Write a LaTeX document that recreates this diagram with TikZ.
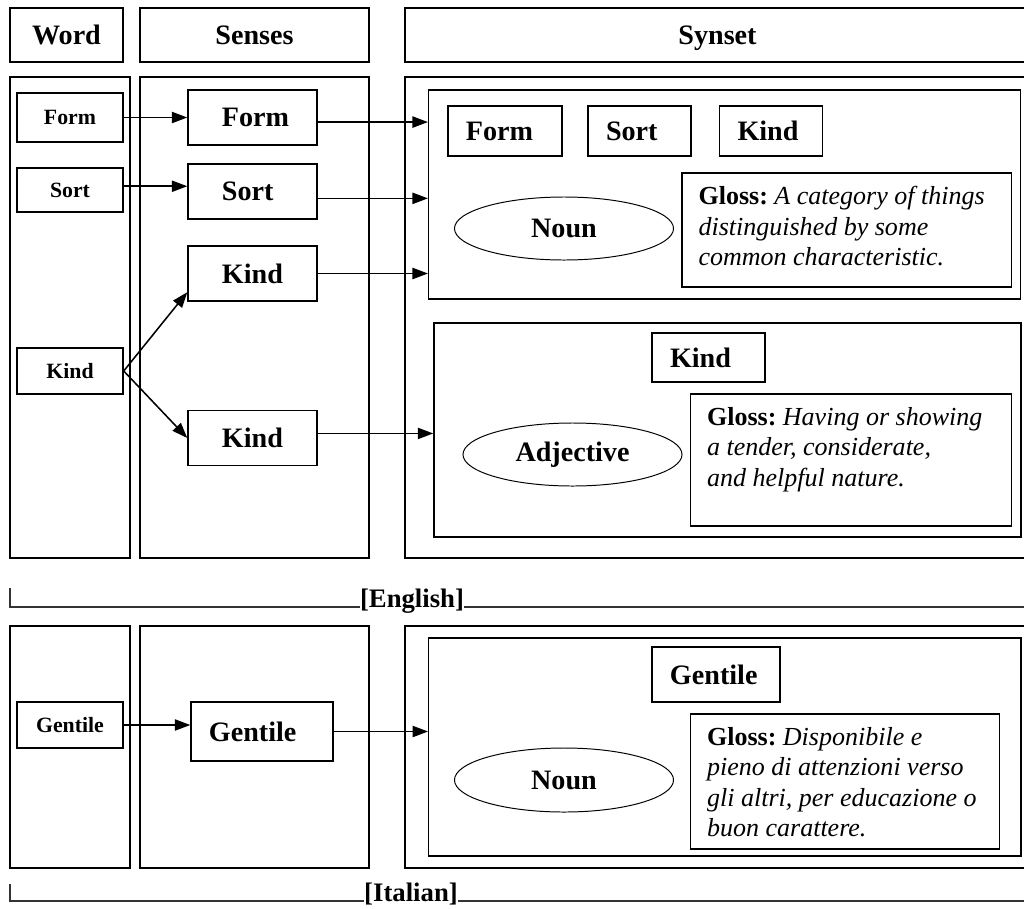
\documentclass[tikz,border=0pt]{standalone}
\usepackage{fontspec}
\setmainfont{Liberation Serif}
\usetikzlibrary{positioning,shapes.geometric,arrows.meta}

\begin{document}
\begin{tikzpicture}[x=0.025cm,y=-0.025cm,
	box/.style={draw,line width=1pt,inner sep=0},
	head/.style={box,font=\bfseries\fontsize{20}{24}\selectfont,text height=16pt,text depth=2pt,minimum height=1.35cm},
	wbox/.style={box,font=\bfseries\fontsize{15.5}{18}\selectfont,minimum width=2.65cm},
	sbox/.style={box,font=\bfseries\fontsize{20}{24}\selectfont,inner xsep=0.85cm,text width=1.525cm,align=left,minimum height=1.375cm},
	ybox/.style={box,font=\bfseries\fontsize{20}{24}\selectfont,inner xsep=0.45cm,align=left,minimum height=1.25cm},
	posell/.style={ellipse,draw,line width=0.7pt,font=\bfseries\fontsize{20}{24}\selectfont,minimum width=5.475cm,minimum height=1.575cm},
	glosstext/.style={inner sep=0,align=left,font=\itshape\fontsize{18.5}{21.5}\selectfont},
	lang/.style={inner sep=0,font=\bfseries\fontsize{19}{23}\selectfont},
	rule/.style={line width=0.9pt,black!80},
	arr/.style={line width=1.1pt,-{Triangle[length=11pt,width=8pt]}}]
\useasboundingbox (0,0) rectangle (1024,908);

% headers
\node[head,minimum width=2.825cm] (hword) at (66.5,35) {Word};
\node[head,minimum width=5.725cm] (hsenses) at (254.5,35) {Senses};
\node[head,minimum width=15.625cm] (hsynset) at (717.5,35) {Synset};

% English
\node[box,minimum width=3cm,minimum height=12.025cm] (cword) at (70,317.5) {};
\node[box,minimum width=5.725cm,minimum height=12.025cm] (csenses) at (254.5,317.5) {};
\node[box,minimum width=15.625cm,minimum height=12.025cm] (csynset) at (717.5,317.5) {};

\node[wbox,minimum height=1.225cm] (wform) at (70,117.5) {Form};
\node[wbox,minimum height=1.1cm] (wsort) at (70,190) {Sort};
\node[wbox,minimum height=1.15cm] (wkind) at (70,371) {Kind};

\node[sbox] (sform) at (252.5,117.5) {Form};
\node[sbox] (ssort) at (252.5,191.5) {Sort};
\node[sbox] (skindn) at (252.5,273.5) {Kind};
\node[sbox] (skinda) at (252.5,438) {Kind};

\node[box,minimum width=14.8cm,minimum height=5.225cm] (syn1) at (724.7,194.5) {};
\node[ybox,text width=1.95cm] (yform) at (505,131) {Form};
\node[ybox,text width=1.675cm] (ysort) at (639.5,131) {Sort};
\node[ybox,text width=1.675cm] (ykind) at (771,131) {Kind};
\node[posell] (ynoun) at (564,228.5) {Noun};
\node[box,minimum width=8.24cm,minimum height=2.85cm] (gloss1) at (846.8,230) {};
\node[glosstext,below right=0.35cm and 0.425cm of gloss1.north west] (gloss1text)
	{\textbf{\upshape Gloss:}~A category of things\\distinguished by some\\common characteristic.};

\node[box,minimum width=14.675cm,minimum height=5.35cm] (syn2) at (727.5,430) {};
\node[ybox,text width=1.925cm,minimum height=1.225cm] (ykindb) at (708.5,357.5) {Kind};
\node[posell] (yadj) at (572.5,454.5) {Adjective};
\node[box,minimum width=8.025cm,minimum height=3.3cm] (gloss2) at (851,460) {};
\node[glosstext,below right=0.35cm and 0.425cm of gloss2.north west] (gloss2text)
	{\textbf{\upshape Gloss:}~Having or showing\\a tender, considerate,\\and helpful nature.};

\draw[arr] (wform.east) -- (wform.east -| sform.west);
\draw[arr] (wsort.4) -- (wsort.4 -| ssort.west);
\draw[arr] (wkind.east) -- (skindn.196);
\draw[arr] (wkind.east) -- (skinda.west);
\draw[arr] (sform.-4) -- (sform.-4 -| syn1.west);
\draw[arr] (ssort.-6) -- (ssort.-6 -| syn1.west);
\draw[arr] (skindn.east) -- (skindn.east -| syn1.west);
\draw[arr] (skinda.4) -- (skinda.4 -| syn2.west);

\node[lang,anchor=base] (english) at (412,607) {[English]};
\coordinate (etick) at (10,588);
\coordinate (eend) at (1030,607);
\draw[rule] (etick) |- (english.base west);
\draw[rule] (english.base east) -- (eend);

% Italian
\node[box,minimum width=3cm,minimum height=6.05cm] (iword) at (70,747) {};
\node[box,minimum width=5.725cm,minimum height=6.05cm] (isenses) at (254.5,747) {};
\node[box,minimum width=15.625cm,minimum height=6.05cm] (isynset) at (717.5,747) {};

\node[wbox,minimum height=1.15cm] (wgentile) at (70,725) {Gentile};
\node[sbox,inner xsep=0.45cm,text width=2.65cm,minimum height=1.475cm] (sgentile) at (262,731.5) {Gentile};

\node[box,minimum width=14.8cm,minimum height=5.45cm] (syn3) at (724.8,747) {};
\node[ybox,text width=2.3cm,minimum height=1.375cm] (ygentile) at (716,674.5) {Gentile};
\node[posell,minimum height=1.6cm] (ynounb) at (564,780) {Noun};
\node[box,minimum width=7.725cm,minimum height=3.375cm] (gloss3) at (845,781.5) {};
\node[glosstext,below right=0.35cm and 0.425cm of gloss3.north west] (gloss3text)
	{\textbf{\upshape Gloss:}~Disponibile e\\pieno di attenzioni verso\\gli altri, per educazione o\\buon carattere.};

\draw[arr] (wgentile.east) -- (wgentile.east -| sgentile.west);
\draw[arr] (sgentile.east) -- (sgentile.east -| syn3.west);

\node[lang,anchor=base] (italian) at (411,901) {[Italian]};
\coordinate (itick) at (10,884);
\coordinate (iend) at (1030,901);
\draw[rule] (itick) |- (italian.base west);
\draw[rule] (italian.base east) -- (iend);
\end{tikzpicture}
\end{document}
